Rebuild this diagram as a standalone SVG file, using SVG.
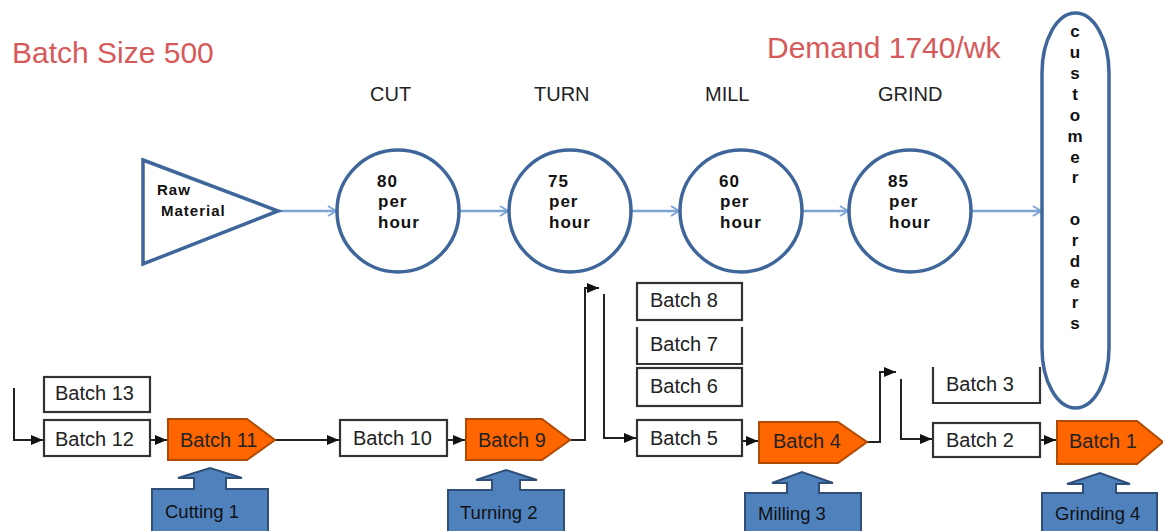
<svg xmlns="http://www.w3.org/2000/svg" width="1163" height="531" viewBox="0 0 1163 531">
<defs>
<style>
.title{font-family:"Liberation Sans",Arial,sans-serif;font-size:30px;fill:#d65a5a}
.stn{font-family:"Liberation Sans",Arial,sans-serif;font-size:20px;fill:#222}
.rate{font-family:"Liberation Sans",Arial,sans-serif;font-size:17px;font-weight:bold;fill:#111;letter-spacing:1px}
.raw{font-family:"Liberation Sans",Arial,sans-serif;font-size:15px;font-weight:bold;fill:#111;letter-spacing:1px}
.cust{font-family:"Liberation Sans",Arial,sans-serif;font-size:17px;font-weight:bold;fill:#111;text-anchor:middle}
.btxt{font-family:"Liberation Sans",Arial,sans-serif;font-size:20px;fill:#222}
.ctxt{font-family:"Liberation Sans",Arial,sans-serif;font-size:18.5px;fill:#111}
.station{fill:#fff;stroke:#3e669a;stroke-width:3.5}
.box{fill:#fff;stroke:#333;stroke-width:2.2}
.pent{fill:#ff6600;stroke:#b04a00;stroke-width:2}
.call{fill:#4f81bd;stroke:#2f4f78;stroke-width:2}
.flow{fill:none;stroke:#7ea4d4;stroke-width:2.5}
.conn{fill:none;stroke:#222;stroke-width:2}
</style>
<marker id="ba" markerWidth="12" markerHeight="12" refX="10" refY="6" orient="auto" markerUnits="userSpaceOnUse">
<path d="M2,1 L10,6 L2,11" fill="none" stroke="#7ea4d4" stroke-width="2"/>
</marker>
<marker id="ka" markerWidth="13" markerHeight="12" refX="12" refY="6" orient="auto" markerUnits="userSpaceOnUse">
<path d="M0,1 L12,6 L0,11 z" fill="#111"/>
</marker>
</defs>
<rect width="1163" height="531" fill="#fff"/>

<text class="title" x="12" y="63">Batch Size 500</text>
<text class="title" x="767" y="58">Demand 1740/wk</text>

<g id="labels">
<text class="stn" x="370" y="101">CUT</text>
<text class="stn" x="534" y="101">TURN</text>
<text class="stn" x="705" y="101">MILL</text>
<text class="stn" x="878" y="101">GRIND</text>
</g>

<g id="connectors">
<path class="flow" d="M278,211 H336" marker-end="url(#ba)"/>
<path class="flow" d="M460,211 H508" marker-end="url(#ba)"/>
<path class="flow" d="M632,211 H679" marker-end="url(#ba)"/>
<path class="flow" d="M803,211 H848" marker-end="url(#ba)"/>
<path class="flow" d="M972,211 H1041" marker-end="url(#ba)"/>
<path class="conn" d="M14,388 V440 H43" marker-end="url(#ka)"/>
<path class="conn" d="M150,440 H167" marker-end="url(#ka)"/>
<path class="conn" d="M275,440 H339" marker-end="url(#ka)"/>
<path class="conn" d="M447,440 H465" marker-end="url(#ka)"/>
<path class="conn" d="M570,440 H585 V288 H599" marker-end="url(#ka)"/>
<path class="conn" d="M604,294 V438 H636" marker-end="url(#ka)"/>
<path class="conn" d="M742,441 H758" marker-end="url(#ka)"/>
<path class="conn" d="M867,442 H880 V372 H896" marker-end="url(#ka)"/>
<path class="conn" d="M901,379 V439 H932" marker-end="url(#ka)"/>
<path class="conn" d="M1040,440 H1056" marker-end="url(#ka)"/>
</g>

<g id="raw-material">
<path class="station" d="M143,160 L278,211 L143,264 Z"/>
<text class="raw" x="157" y="195">Raw</text>
<text class="raw" x="161" y="216">Material</text>
</g>

<g id="cut">
<circle class="station" cx="398" cy="211" r="61"/>
<text class="rate" x="377" y="187">80</text>
<text class="rate" x="378" y="207">per</text>
<text class="rate" x="378" y="228">hour</text>
</g>
<g id="turn">
<circle class="station" cx="570" cy="211" r="61"/>
<text class="rate" x="548" y="187">75</text>
<text class="rate" x="549" y="207">per</text>
<text class="rate" x="549" y="228">hour</text>
</g>
<g id="mill">
<circle class="station" cx="741" cy="211" r="61"/>
<text class="rate" x="719" y="187">60</text>
<text class="rate" x="720" y="207">per</text>
<text class="rate" x="720" y="228">hour</text>
</g>
<g id="grind">
<circle class="station" cx="910" cy="211" r="61"/>
<text class="rate" x="888" y="187">85</text>
<text class="rate" x="889" y="207">per</text>
<text class="rate" x="889" y="228">hour</text>
</g>

<g id="customer-orders">
<rect class="station" x="1042" y="13" width="67" height="395" rx="33.5" ry="60"/>
<text class="cust" x="1075" y="37">c</text>
<text class="cust" x="1075" y="58">u</text>
<text class="cust" x="1075" y="79">s</text>
<text class="cust" x="1075" y="100">t</text>
<text class="cust" x="1075" y="121">o</text>
<text class="cust" x="1075" y="142">m</text>
<text class="cust" x="1075" y="163">e</text>
<text class="cust" x="1075" y="183">r</text>
<text class="cust" x="1075" y="225">o</text>
<text class="cust" x="1075" y="246">r</text>
<text class="cust" x="1075" y="267">d</text>
<text class="cust" x="1075" y="288">e</text>
<text class="cust" x="1075" y="308">r</text>
<text class="cust" x="1075" y="329">s</text>
</g>

<g id="batch13"><rect class="box" x="44" y="377" width="106" height="35"/><text class="btxt" x="55" y="400">Batch 13</text></g>
<g id="batch12"><rect class="box" x="44" y="420" width="106" height="36"/><text class="btxt" x="55" y="446">Batch 12</text></g>
<g id="batch11"><path class="pent" d="M168,419 H247 L275,440 L247,460 H168 Z"/><text class="btxt" x="180" y="447">Batch 11</text></g>
<g id="batch10"><rect class="box" x="340" y="420" width="107" height="36"/><text class="btxt" x="353" y="445">Batch 10</text></g>
<g id="batch9"><path class="pent" d="M466,419 H542 L570,440 L542,460 H466 Z"/><text class="btxt" x="478" y="447">Batch 9</text></g>
<g id="batch8"><rect class="box" x="637" y="283" width="105" height="37"/><text class="btxt" x="650" y="307">Batch 8</text></g>
<g id="batch7"><path class="box" d="M637,327 V364 H742 V327"/><text class="btxt" x="650" y="351">Batch 7</text></g>
<g id="batch6"><rect class="box" x="637" y="368" width="105" height="38"/><text class="btxt" x="650" y="393">Batch 6</text></g>
<g id="batch5"><rect class="box" x="637" y="420" width="105" height="36"/><text class="btxt" x="650" y="445">Batch 5</text></g>
<g id="batch4"><path class="pent" d="M759,422 H838 L867,442 L838,463 H759 Z"/><text class="btxt" x="773" y="448">Batch 4</text></g>
<g id="batch3"><path class="box" d="M933,367 V403 H1040 V367"/><text class="btxt" x="946" y="391">Batch 3</text></g>
<g id="batch2"><rect class="box" x="933" y="423" width="107" height="34"/><text class="btxt" x="946" y="447">Batch 2</text></g>
<g id="batch1"><path class="pent" d="M1057,421 H1137 L1163,442 L1137,464 H1057 Z"/><text class="btxt" x="1069" y="448">Batch 1</text></g>

<g id="cutting1"><path class="call" d="M152,489 H194 V478 H178 L210,468 L242,478 H226 V489 H268 V534 H152 Z"/><text class="ctxt" x="165" y="518">Cutting 1</text></g>
<g id="turning2"><path class="call" d="M448,490 H492 V480 H476 L506,470 L537,480 H520 V490 H564 V534 H448 Z"/><text class="ctxt" x="460" y="519">Turning 2</text></g>
<g id="milling3"><path class="call" d="M745,493 H787 V483 H772 L802,472 L833,483 H819 V493 H861 V534 H745 Z"/><text class="ctxt" x="758" y="520">Milling 3</text></g>
<g id="grinding4"><path class="call" d="M1042,493 H1083 V484 H1067 L1100,473 L1130,484 H1116 V493 H1157 V534 H1042 Z"/><text class="ctxt" x="1055" y="520">Grinding 4</text></g>
</svg>
